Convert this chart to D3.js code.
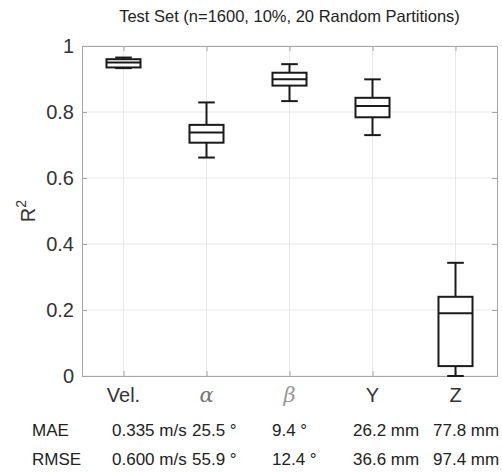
<!DOCTYPE html>
<html>
<head>
<meta charset="utf-8">
<script src="https://cdn.jsdelivr.net/npm/d3@7"></script>
<style>
  body { margin: 0; background: #fff; }
  svg { font-family: "Liberation Sans", Arial, sans-serif; }
</style>
</head>
<body>
<div id="chart"></div>
<script>
// chart size and plot box
const width = 502;
const height = 472;
const margin = {left: 82, right: 5, top: 46, bottom: 96};

// data
const categories = ["Vel.", "α", "β", "Y", "Z"];
const whiskerLow = [0.933, 0.662, 0.833, 0.730, 0.000];
const q1 = [0.935, 0.707, 0.880, 0.784, 0.030];
const median = [0.950, 0.738, 0.899, 0.818, 0.190];
const q3 = [0.960, 0.761, 0.919, 0.843, 0.240];
const whiskerHigh = [0.965, 0.829, 0.945, 0.899, 0.343];
const yTicks = [0, 0.2, 0.4, 0.6, 0.8, 1];
const maeLabels = ["0.335 m/s", "25.5 °", "9.4 °", "26.2 mm", "77.8 mm"];
const rmseLabels = ["0.600 m/s", "55.9 °", "12.4 °", "36.6 mm", "97.4 mm"];

// left edge of each column of the error table
const colX = [112, 192, 272, 353, 433];

const svg = d3.select("#chart")
  .append("svg")
  .attr("width", width)
  .attr("height", height);

const x = d3.scaleLinear()
  .domain([0.5, 5.5])
  .range([margin.left, width - margin.right]);

const y = d3.scaleLinear()
  .domain([0, 1])
  .range([height - margin.bottom, margin.top]);

const plotL = x.range()[0], plotR = x.range()[1];
const plotT = y.range()[1], plotB = y.range()[0];

// grid
svg.append("g")
  .selectAll("line")
  .data(yTicks)
  .join("line")
  .attr("x1", plotL).attr("x2", plotR)
  .attr("y1", d => y(d)).attr("y2", d => y(d))
  .attr("stroke", "#e8e8e8");

svg.append("g")
  .selectAll("line")
  .data(d3.range(1, 6))
  .join("line")
  .attr("x1", d => x(d)).attr("x2", d => x(d))
  .attr("y1", plotT).attr("y2", plotB)
  .attr("stroke", "#e8e8e8");

// axes (MATLAB-ish box with ticks inside)
const axisColor = "#a6a6a6";
svg.append("g")
  .attr("transform", `translate(${plotL},0)`)
  .call(d3.axisLeft(y).tickValues(yTicks).tickSize(-5).tickFormat(d3.format("")))
  .call(g => g.select(".domain").attr("stroke", axisColor))
  .call(g => g.selectAll(".tick line").attr("stroke", axisColor))
  .call(g => g.selectAll(".tick text")
    .attr("x", -8)
    .attr("font-size", "20px")
    .attr("fill", "#333")
    .attr("font-family", "Liberation Sans, Arial, sans-serif"));

svg.append("g")
  .attr("transform", `translate(${plotR},0)`)
  .call(d3.axisRight(y).tickValues(yTicks).tickSize(-5).tickFormat(""))
  .call(g => g.select(".domain").attr("stroke", axisColor))
  .call(g => g.selectAll(".tick line").attr("stroke", axisColor));

svg.append("g")
  .attr("transform", `translate(0,${plotB})`)
  .call(d3.axisBottom(x).tickValues(d3.range(1, 6)).tickSize(-5).tickSizeOuter(0).tickFormat(""))
  .call(g => g.select(".domain").attr("stroke", axisColor))
  .call(g => g.selectAll(".tick line").attr("stroke", axisColor));

svg.append("g")
  .attr("transform", `translate(0,${plotT})`)
  .call(d3.axisTop(x).tickValues(d3.range(1, 6)).tickSize(-5).tickSizeOuter(0).tickFormat(""))
  .call(g => g.select(".domain").attr("stroke", axisColor))
  .call(g => g.selectAll(".tick line").attr("stroke", axisColor));

// category labels
svg.append("g")
  .selectAll("text")
  .data(categories)
  .join("text")
  .attr("x", (d, i) => x(i + 1))
  .attr("y", plotB + 26)
  .attr("text-anchor", "middle")
  .attr("font-size", (d, i) => (i === 1 || i === 2) ? "21px" : "20px")
  .attr("font-family", (d, i) => (i === 1 || i === 2) ? "DejaVu Serif, Liberation Serif, serif" : null)
  .attr("font-style", (d, i) => (i === 1 || i === 2) ? "italic" : null)
  .attr("fill", (d, i) => i === 1 ? "#777" : i === 2 ? "#999" : "#333")
  .text(d => d);

// boxes
const boxHalf = 0.205;
const capHalf = 0.1;
const boxes = svg.append("g")
  .selectAll("g")
  .data(categories.map((c, i) => i))
  .join("g")
  .attr("stroke", "#1a1a1a")
  .attr("stroke-width", 2)
  .attr("fill", "none");

boxes.append("line") // upper whisker
  .attr("x1", i => x(i + 1)).attr("x2", i => x(i + 1))
  .attr("y1", i => y(q3[i])).attr("y2", i => y(whiskerHigh[i]));
boxes.append("line") // lower whisker
  .attr("x1", i => x(i + 1)).attr("x2", i => x(i + 1))
  .attr("y1", i => y(q1[i])).attr("y2", i => y(whiskerLow[i]));
boxes.append("line") // upper cap
  .attr("x1", i => x(i + 1 - capHalf)).attr("x2", i => x(i + 1 + capHalf))
  .attr("y1", i => y(whiskerHigh[i])).attr("y2", i => y(whiskerHigh[i]));
boxes.append("line") // lower cap
  .attr("x1", i => x(i + 1 - capHalf)).attr("x2", i => x(i + 1 + capHalf))
  .attr("y1", i => y(whiskerLow[i])).attr("y2", i => y(whiskerLow[i]));
boxes.append("rect")
  .attr("x", i => x(i + 1 - boxHalf))
  .attr("width", i => x(i + 1 + boxHalf) - x(i + 1 - boxHalf))
  .attr("y", i => y(q3[i]))
  .attr("height", i => y(q1[i]) - y(q3[i]))
  .attr("fill", "white");
boxes.append("line") // median
  .attr("x1", i => x(i + 1 - boxHalf)).attr("x2", i => x(i + 1 + boxHalf))
  .attr("y1", i => y(median[i])).attr("y2", i => y(median[i]));

// title
svg.append("text")
  .attr("x", (plotL + plotR) / 2)
  .attr("y", 22)
  .attr("text-anchor", "middle")
  .attr("font-size", "16.5px")
  .attr("fill", "#222")
  .text("Test Set (n=1600, 10%, 20 Random Partitions)");

// y label
svg.append("text")
  .attr("transform", `translate(35,${(plotT + plotB) / 2}) rotate(-90)`)
  .attr("text-anchor", "middle")
  .attr("font-size", "20px")
  .attr("fill", "#333")
  .text("R")
  .append("tspan")
  .attr("font-size", "14px")
  .attr("dy", -9)
  .text("2");

// error table
const rows = [["MAE", maeLabels, 436], ["RMSE", rmseLabels, 465]];
rows.forEach(([name, labels, yy]) => {
  svg.append("text")
    .attr("x", 32).attr("y", yy)
    .attr("font-size", "17px")
    .attr("fill", "#222")
    .text(name);
  svg.append("g")
    .selectAll("text")
    .data(labels)
    .join("text")
    .attr("x", (d, i) => colX[i])
    .attr("y", yy)
    .attr("font-size", "17px")
    .attr("fill", "#222")
    .text(d => d);
});
</script>
</body>
</html>
